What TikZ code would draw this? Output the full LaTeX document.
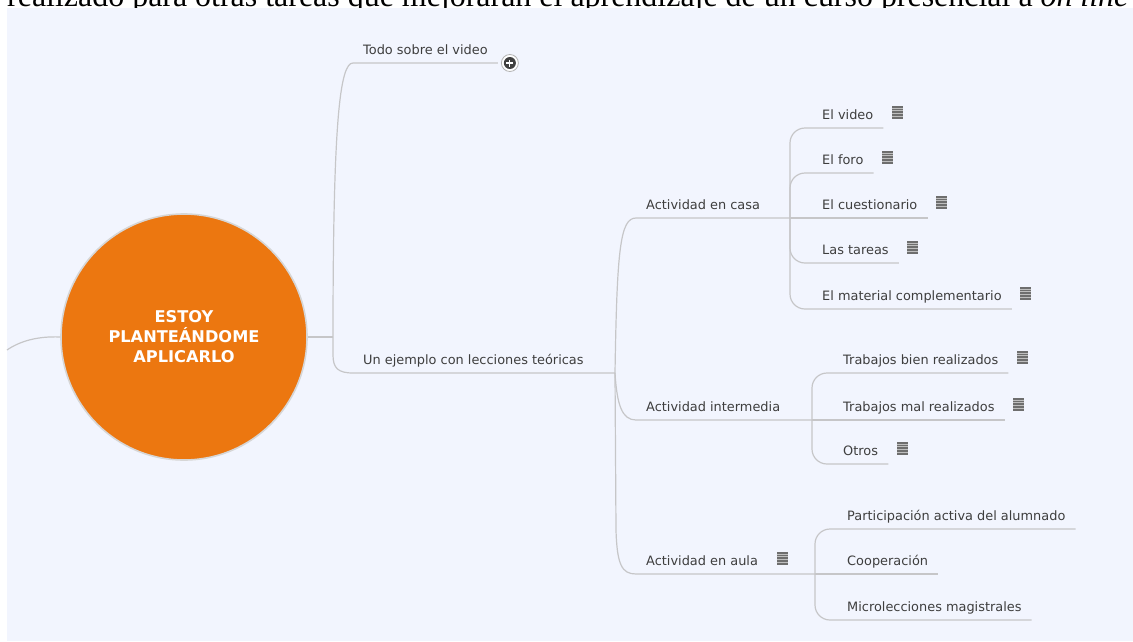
\documentclass[tikz,border=0pt]{standalone}
\usepackage{fontspec}
\setmainfont{Liberation Serif}
\newfontfamily\topicfont{DejaVu Sans}
\usetikzlibrary{calc}
\definecolor{bgblue}{RGB}{242,245,254}
\definecolor{rootorange}{RGB}{236,119,16}
\definecolor{linegray}{RGB}{198,198,200}
\definecolor{txtgray}{RGB}{62,62,62}
\definecolor{icongray}{RGB}{110,110,110}
\tikzset{
  topic/.style={font=\topicfont\fontsize{12.9}{15}\selectfont, text=txtgray,
    text height=9pt, text depth=3pt, inner xsep=10pt, inner ysep=5.5pt, anchor=south west},
  conn/.style={draw=linegray, line width=1.2pt},
  child/.style={conn, rounded corners=15pt},
  rootnode/.style={circle, fill=rootorange, draw={rgb,255:red,214;green,214;blue,214}, line width=1.6pt,
    minimum size=246pt, inner sep=0pt, text=white, align=center,
    font=\topicfont\bfseries\fontsize{16.2}{20}\selectfont},
  noteicon/.pic={
    \fill[icongray] (-5.5,-6.5) rectangle (5.5,6.5);
    \foreach \yy in {-4,-1.3,1.4,4.1}{\draw[white!55!icongray, line width=0.6pt] (-5.5,\yy) -- (5.5,\yy);}
  },
  plusicon/.pic={
    \draw[gray!60, line width=0.8pt, fill=white] (0,0) circle (8.5);
    \fill[black!75] (0,0) circle (6);
    \draw[white, line width=1.2pt] (-3.5,0) -- (3.5,0) (0,-3.5) -- (0,3.5);
  }
}
\begin{document}
\begin{tikzpicture}[x=1pt,y=-1pt]
\useasboundingbox (0,0) rectangle (1133,641);
\clip (0,0) rectangle (1133,641);
\fill[white] (0,0) rectangle (1133,641);
\node[anchor=base west, inner sep=0pt] (toptext) at (7,6.5)
  {\resizebox{1121pt}{!}{realizado para otras tareas que mejorarán el aprendizaje de un curso presencial a \textit{on line}}};
\fill[bgblue] (7,7.5) rectangle (1133,641);

% junction coordinates
\coordinate (J1) at (333,337);
\coordinate (J2) at (615,373);
\coordinate (J3) at (790,218);
\coordinate (J5) at (812,420);
\coordinate (J4) at (815,574);
\coordinate (lend) at (7,350);

% nodes
\node[rootnode] (root) at (184,337) {ESTOY\\PLANTEÁNDOME\\APLICARLO};
\node[topic] (todo) at (353,63) {Todo sobre el video};
\node[topic] (ejemplo) at (353,373) {Un ejemplo con lecciones teóricas};
\node[topic] (casa) at (636,218) {Actividad en casa};
\node[topic] (inter) at (636,420) {Actividad intermedia};
\node[topic] (aula) at (636,574) {Actividad en aula};
\node[topic] (video) at (812,128) {El video};
\node[topic] (foro) at (812,173) {El foro};
\node[topic] (cuest) at (812,218) {El cuestionario};
\node[topic] (tareas) at (812,263) {Las tareas};
\node[topic] (material) at (812,309) {El material complementario};
\node[topic] (bien) at (833,373) {Trabajos bien realizados};
\node[topic] (mal) at (833,420) {Trabajos mal realizados};
\node[topic] (otros) at (833,464) {Otros};
\node[topic] (part) at (837,529) {Participación activa del alumnado};
\node[topic] (coop) at (837,574) {Cooperación};
\node[topic] (micro) at (837,620) {Microlecciones magistrales};

% connectors
\draw[conn] (root.west) .. controls (38,336) and (20,341) .. (lend);
\draw[conn] (root.east) -- (J1);
\draw[conn] (J1) .. controls (333,120) and (340,63) .. (todo.south west) -- (todo.south east);
\draw[conn] (J1) -- ++(0,18) .. controls (333,368) and (338,373) .. (ejemplo.south west) -- (J2);
\draw[conn] (J2) .. controls (617,250) and (620,218) .. (casa.south west) -- (J3);
\draw[conn] (J2) .. controls (617,405) and (622,420) .. (inter.south west) -- (J5);
\draw[conn] (J2) -- (616,530) .. controls (617,565) and (622,574) .. (aula.south west) -- (J4);

\draw[child] (J3) |- (video.south east);
\draw[child] (J3) |- (foro.south east);
\draw[child] (J3) -- (cuest.south east);
\draw[child] (J3) |- (tareas.south east);
\draw[child] (J3) |- (material.south east);
\draw[child] (J5) |- (bien.south east);
\draw[child] (J5) -- (mal.south east);
\draw[child] (J5) |- (otros.south east);
\draw[child] (J4) |- (part.south east);
\draw[child] (J4) -- (coop.south east);
\draw[child] (J4) |- (micro.south east);

% icons
\pic at ($(todo.south east)+(12,0)$) {plusicon};
\foreach \n in {video,foro,cuest,tareas,material,bien,mal,otros,aula}{
  \pic at ($(\n.south east)+(14,-16)$) {noteicon};
}
\end{tikzpicture}
\end{document}
